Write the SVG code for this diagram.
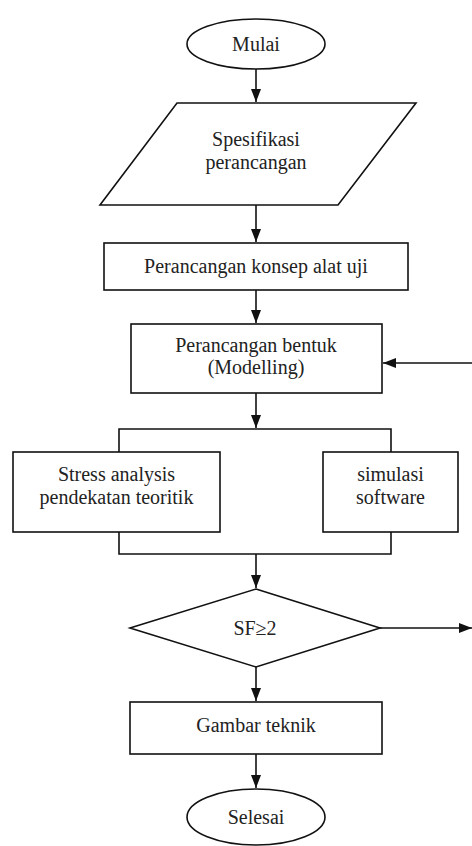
<svg xmlns="http://www.w3.org/2000/svg" width="472" height="846" viewBox="0 0 472 846">
<style>
.s{fill:#fff;stroke:#111;stroke-width:1.6}
.c{fill:none;stroke:#111;stroke-width:1.6}
.t{font-size:20px;fill:#222;text-anchor:middle}
</style>
<defs>
<marker id="ah" markerUnits="userSpaceOnUse" markerWidth="14" markerHeight="12" refX="13" refY="5" orient="auto">
<path d="M0,0 L13,5 L0,10 Z" fill="#111"/>
</marker>
</defs>
<rect width="472" height="846" fill="#fff"/>
<g id="connectors">
<line class="c" x1="256" y1="69" x2="256" y2="102" marker-end="url(#ah)"/>
<line class="c" x1="256" y1="205" x2="256" y2="242" marker-end="url(#ah)"/>
<line class="c" x1="256" y1="290" x2="256" y2="323" marker-end="url(#ah)"/>
<line class="c" x1="472" y1="363" x2="383" y2="363" marker-end="url(#ah)"/>
<line class="c" x1="256" y1="393" x2="256" y2="428" marker-end="url(#ah)"/>
<polyline class="c" points="119,452 119,429 391,429 391,452"/>
<polyline class="c" points="119,532 119,554 391,554 391,532"/>
<line class="c" x1="256" y1="554" x2="256" y2="588" marker-end="url(#ah)"/>
<line class="c" x1="380" y1="628" x2="472" y2="628" marker-end="url(#ah)"/>
<line class="c" x1="256" y1="667" x2="256" y2="701" marker-end="url(#ah)"/>
<line class="c" x1="256" y1="754" x2="256" y2="788" marker-end="url(#ah)"/>
</g>
<g font-family="'Liberation Serif', 'DejaVu Serif', serif">
<g id="mulai">
<ellipse class="s" cx="256" cy="44" rx="69" ry="25"/>
<text class="t" x="256" y="51">Mulai</text>
</g>
<g id="spesifikasi">
<polygon class="s" points="177,103 416,103 338,205 100,205"/>
<text class="t" x="256" y="146">Spesifikasi</text>
<text class="t" x="256" y="169">perancangan</text>
</g>
<g id="konsep">
<rect class="s" x="104" y="243" width="304" height="47"/>
<text class="t" x="256" y="273">Perancangan konsep alat uji</text>
</g>
<g id="bentuk">
<rect class="s" x="131" y="324" width="251" height="69"/>
<text class="t" x="256" y="352">Perancangan bentuk</text>
<text class="t" x="256" y="374">(Modelling)</text>
</g>
<g id="stress">
<rect class="s" x="13" y="452" width="207" height="80"/>
<text class="t" x="116.5" y="481">Stress analysis</text>
<text class="t" x="116.5" y="504">pendekatan teoritik</text>
</g>
<g id="simulasi">
<rect class="s" x="323" y="452" width="135" height="80"/>
<text class="t" x="390.5" y="481">simulasi</text>
<text class="t" x="390.5" y="504">software</text>
</g>
<g id="sf">
<polygon class="s" points="256,589 380,628 256,667 130,628"/>
<text class="t" x="255" y="635">SF≥2</text>
</g>
<g id="gambar">
<rect class="s" x="130" y="702" width="252" height="52"/>
<text class="t" x="256" y="732">Gambar teknik</text>
</g>
<g id="selesai">
<ellipse class="s" cx="256" cy="817" rx="69" ry="28"/>
<text class="t" x="256" y="824">Selesai</text>
</g>
</g>
</svg>
